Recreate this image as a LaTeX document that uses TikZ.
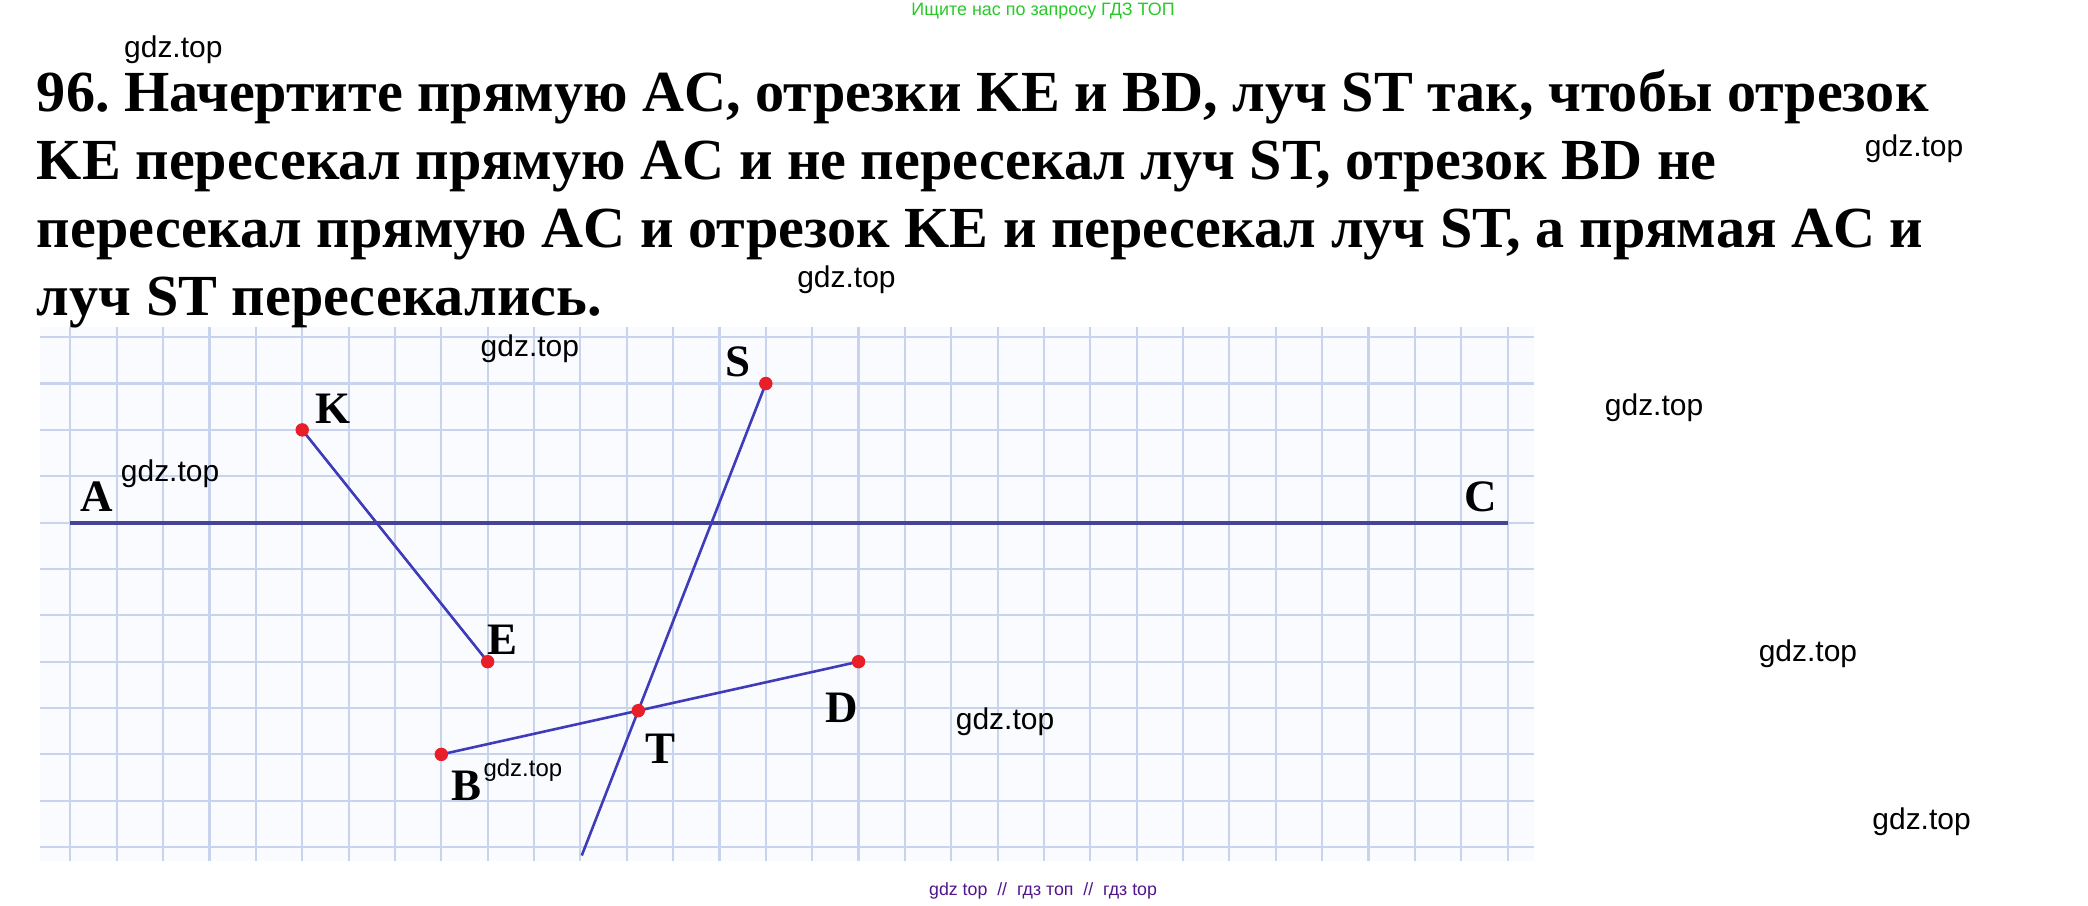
\documentclass[tikz,border=0pt]{standalone}
\usepackage{fontspec}
\setmainfont{Liberation Serif}
\newfontfamily\wmfont{Liberation Sans}
\frenchspacing
\definecolor{gridblue}{RGB}{200,211,238}
\definecolor{paper}{RGB}{249,251,255}
\definecolor{lineblue}{RGB}{64,60,185}
\definecolor{acblue}{RGB}{70,68,150}
\definecolor{dotred}{RGB}{232,30,40}
\definecolor{wmgreen}{RGB}{40,200,40}
\definecolor{wmpurple}{RGB}{80,20,140}
\tikzset{
  dot/.style={circle,fill=dotred,inner sep=0pt,minimum size=0.29cm},
  lbl/.style={font=\bfseries\fontsize{27.6}{30}\selectfont,inner sep=0pt},
  tline/.style={anchor=base west,font=\bfseries\fontsize{35.7}{41.5}\selectfont,inner sep=0pt},
  wm/.style={font=\wmfont\fontsize{18.4}{20}\selectfont,inner sep=0pt},
  seg/.style={lineblue,line width=1.6pt}
}
\begin{document}
\begin{tikzpicture}
  \useasboundingbox (-1.519,-8.249) rectangle (43.52,11.273);
  % squared paper
  \fill[paper] (-0.656,-7.30) rectangle (31.57,4.22);
  \foreach \x in {0,...,31}
    \draw[gridblue,line width=1.3pt] (\x,-7.30) -- (\x,4.22);
  \foreach \y in {-7,...,4}
    \draw[gridblue,line width=1.3pt] (-0.656,\y) -- (31.57,\y);
  % task
  \node[tline] (t1) at (-0.729,8.863) {96. Начертите прямую AC, отрезки KE и BD, луч ST так, чтобы отрезок};
  \node[tline] (t2) at (-0.729,7.398) {KE пересекал прямую AC и не пересекал луч ST, отрезок BD не};
  \node[tline] (t3) at (-0.729,5.933) {пересекал прямую AC и отрезок KE и пересекал луч ST, а прямая AC и};
  \node[tline] (t4) at (-0.729,4.468) {луч ST пересекались.};
  % points
  \coordinate (A) at (0,0);
  \coordinate (C) at (31,0);
  \coordinate (K) at (5,2);
  \coordinate (E) at (9,-3);
  \coordinate (B) at (8,-5);
  \coordinate (D) at (17,-3);
  \coordinate (S) at (15,3);
  \coordinate (R) at (11.03,-7.18);
  \coordinate (T) at (intersection of S--R and B--D);
  \draw[acblue,line width=2.4pt] (A) -- (C);
  \draw[seg] (K) -- (E);
  \draw[seg] (B) -- (D);
  \draw[seg] (S) -- (R);
  \foreach \p in {K,E,B,D,S,T}
    \node[dot] (d\p) at (\p) {};
  \begin{scope}[every node/.style={lbl}]
    \node (lA) at (0.574,0.557) {A};
    \node (lC) at (30.42,0.557) {C};
    \node (lK) at (5.66,2.46) {K};
    \node (lS) at (14.41,3.46) {S};
    \node (lE) at (9.32,-2.52) {E};
    \node (lT) at (12.73,-4.875) {T};
    \node (lB) at (8.55,-5.68) {B};
    \node (lD) at (16.64,-3.99) {D};
  \end{scope}
  % watermarks
  \begin{scope}[every node/.style={wm}]
    \node (w1) at (2.22,10.19) {gdz.top};
    \node (w2) at (39.77,8.07) {gdz.top};
    \node (w3) at (16.74,5.23) {gdz.top};
    \node (w4) at (9.91,3.76) {gdz.top};
    \node (w5) at (34.16,2.47) {gdz.top};
    \node (w6) at (2.15,1.057) {gdz.top};
    \node (w7) at (37.48,-2.83) {gdz.top};
    \node (w8) at (20.16,-4.30) {gdz.top};
    \node[font=\wmfont\fontsize{14.7}{16}\selectfont] (w9) at (9.76,-5.34) {gdz.top};
    \node (w10) at (39.93,-6.45) {gdz.top};
  \end{scope}
  \node[font=\wmfont\fontsize{11}{12}\selectfont,text=wmgreen] (top) at (20.98,11.03) {Ищите нас по запросу ГДЗ ТОП};
  \node[font=\wmfont\fontsize{10.9}{12}\selectfont,text=wmpurple] (bot) at (20.98,-7.95) {gdz top \ // \ гдз топ \ // \ гдз top};
\end{tikzpicture}
\end{document}
